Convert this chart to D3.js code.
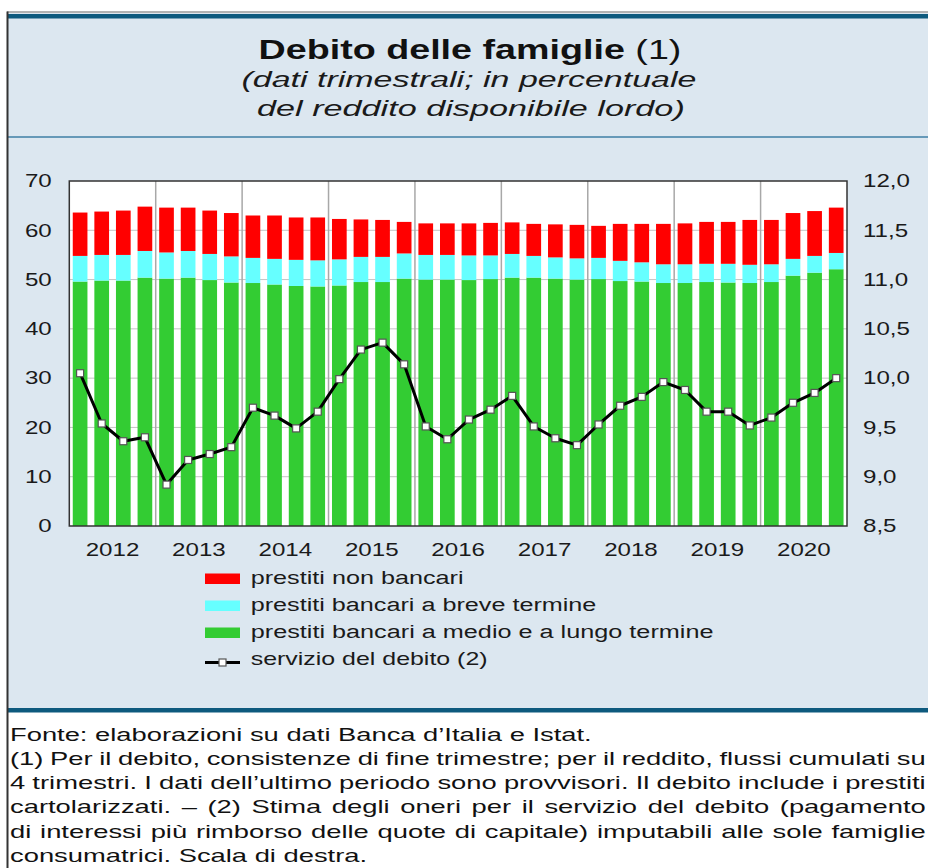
<!DOCTYPE html>
<html><head><meta charset="utf-8">
<script src="https://cdn.jsdelivr.net/npm/d3@7"></script>
<style>
body{margin:0;background:#fff}
svg{display:block;font-family:"Liberation Sans",Arial,Helvetica,sans-serif}
</style>
</head><body>
<svg id="chart" width="928" height="868"></svg>
<script>
// ---------------- DATA ----------------
const years = [2012, 2013, 2014, 2015, 2016, 2017, 2018, 2019, 2020];
const quarters = years.flatMap(y => ["T1", "T2", "T3", "T4"].map(q => y + " " + q));

// prestiti bancari a medio e a lungo termine (% reddito disponibile lordo)
const medioLungo = [49.6, 49.8, 49.8, 50.4, 50.2, 50.4, 49.9, 49.4, 49.3, 49.0, 48.7, 48.6,
  48.8, 49.5, 49.5, 50.2, 50.0, 50.0, 49.9, 50.1, 50.4, 50.4, 50.2, 50.0,
  50.1, 49.7, 49.6, 49.3, 49.3, 49.5, 49.4, 49.3, 49.5, 50.8, 51.4, 52.1];
// prestiti bancari a breve termine
const breve = [5.2, 5.2, 5.2, 5.4, 5.3, 5.4, 5.3, 5.3, 5.1, 5.2, 5.3, 5.3,
  5.3, 5.1, 5.1, 5.1, 5.0, 5.0, 5.0, 4.8, 4.8, 4.4, 4.3, 4.3,
  4.3, 4.1, 3.9, 3.8, 3.8, 3.7, 3.8, 3.7, 3.6, 3.4, 3.4, 3.3];
// prestiti non bancari
const nonBancari = [8.8, 8.8, 9.0, 9.0, 9.1, 8.8, 8.8, 8.8, 8.6, 8.8, 8.6, 8.7,
  8.2, 7.6, 7.5, 6.4, 6.4, 6.4, 6.5, 6.6, 6.4, 6.5, 6.7, 6.8,
  6.5, 7.5, 7.8, 8.2, 8.3, 8.5, 8.5, 9.1, 9.0, 9.3, 9.1, 9.2];
// servizio del debito (scala di destra)
const servizio = [10.05, 9.54, 9.36, 9.40, 8.92, 9.17, 9.23, 9.30, 9.70, 9.62, 9.49, 9.66,
  9.99, 10.29, 10.36, 10.14, 9.51, 9.38, 9.58, 9.68, 9.82, 9.51, 9.39, 9.32,
  9.53, 9.72, 9.81, 9.96, 9.88, 9.66, 9.66, 9.52, 9.60, 9.75, 9.85, 10.00];

const leftTicks = [0, 10, 20, 30, 40, 50, 60, 70];
const rightTicks = [8.5, 9.0, 9.5, 10.0, 10.5, 11.0, 11.5, 12.0];

const seriesKeys = ["medioLungo", "breve", "nonBancari"];
const seriesColors = { medioLungo: "#33cc33", breve: "#66ffff", nonBancari: "#ff0000" };
const legendLabels = ["prestiti non bancari", "prestiti bancari a breve termine",
  "prestiti bancari a medio e a lungo termine", "servizio del debito (2)"];

const titleText = "Debito delle famiglie";
const titleNote = " (1)";
const subtitleLines = ["(dati trimestrali; in percentuale", "del reddito disponibile lordo)"];
const footLines = [
  "Fonte: elaborazioni su dati Banca d\u2019Italia e Istat.",
  "(1) Per il debito, consistenze di fine trimestre; per il reddito, flussi cumulati su",
  "4 trimestri. I dati dell\u2019ultimo periodo sono provvisori. Il debito include i prestiti",
  "cartolarizzati. \u2013 (2) Stima degli oneri per il servizio del debito (pagamento",
  "di interessi pi\u00f9 rimborso delle quote di capitale) imputabili alle sole famiglie",
  "consumatrici. Scala di destra."
];

// ---------------- LAYOUT ----------------
const W = 928, H = 868;
const plot = { left: 69.3, right: 847, top: 181, bottom: 526 };
const SX = 1.34; // horizontal stretch of the lettering
const panelFill = "#dce7f0";
const navy = "#0e5a7e";

const svg = d3.select("#chart");

// helper: text placed with a horizontal stretch (either a fixed factor or a target width)
function label(parent, build, x, y, o) {
  const t = parent.append("text")
    .attr("font-size", o.size)
    .attr("fill", o.fill || "#1a1a1a")
    .attr("font-weight", o.weight || "normal")
    .attr("font-style", o.style || "normal")
    .attr("text-anchor", "start");
  build(t);
  let w = t.node().getComputedTextLength();
  let s = o.width ? o.width / w : (o.sx || SX);
  if (o.justify) {
    const txt = t.text();
    const n = (txt.match(/ /g) || []).length;
    const ws = (o.justify / s - w) / n;
    t.attr("word-spacing", ws);
    w = t.node().getComputedTextLength();
  }
  const tw = w * s;
  const x0 = o.anchor === "middle" ? x - tw / 2 : o.anchor === "end" ? x - tw : x;
  t.attr("transform", `translate(${x0},${y}) scale(${s},1)`);
  return t;
}

// ---------------- FRAME ----------------
svg.append("rect").attr("x", 0).attr("y", 0).attr("width", W).attr("height", H).attr("fill", "#fff");
svg.append("rect").attr("x", 7).attr("y", 13).attr("width", W - 7).attr("height", 696).attr("fill", panelFill);
svg.append("line").attr("x1", 7).attr("x2", W).attr("y1", 12).attr("y2", 12).attr("stroke", "#666").attr("stroke-width", 1);
svg.append("rect").attr("x", 7).attr("y", 14).attr("width", W - 7).attr("height", 4.5).attr("fill", navy);
svg.append("line").attr("x1", 7).attr("x2", W).attr("y1", 137).attr("y2", 137).attr("stroke", "#3f7fa6").attr("stroke-width", 1.6);
svg.append("rect").attr("x", 7).attr("y", 708).attr("width", W - 7).attr("height", 4.5).attr("fill", navy);
svg.append("line").attr("x1", 7.5).attr("x2", 7.5).attr("y1", 11.5).attr("y2", H).attr("stroke", "#333").attr("stroke-width", 2);

// ---------------- TITLE ----------------
label(svg, t => {
  t.append("tspan").attr("font-weight", "bold").text(titleText);
  t.append("tspan").attr("font-weight", "normal").text(titleNote);
}, 470, 59, { size: 28, width: 423, anchor: "middle", fill: "#111" });
const subY = [87, 116], subW = [455, 428], subX = [469, 471];
subtitleLines.forEach((s, i) => {
  label(svg, t => t.text(s), subX[i], subY[i], { size: 22, style: "italic", width: subW[i], anchor: "middle", fill: "#1a1a1a" });
});

// ---------------- SCALES ----------------
const x = d3.scaleBand().domain(quarters).range([plot.left, plot.right]).paddingInner(0.32).paddingOuter(0.16);
const xYear = d3.scaleBand().domain(years).range([plot.left, plot.right]).padding(0);
const y = d3.scaleLinear().domain([0, 70]).range([plot.bottom, plot.top]);
const y2 = d3.scaleLinear().domain([8.5, 12]).range([plot.bottom, plot.top]);

// plot background
svg.append("rect").attr("x", plot.left).attr("y", plot.top)
  .attr("width", plot.right - plot.left).attr("height", plot.bottom - plot.top).attr("fill", "#fff");

// horizontal gridlines
svg.append("g").selectAll("line").data(leftTicks.slice(1, -1)).join("line")
  .attr("x1", plot.left).attr("x2", plot.right)
  .attr("y1", d => y(d)).attr("y2", d => y(d))
  .attr("stroke", "#c4c4c4").attr("stroke-width", 1);

// vertical year separators
svg.append("g").selectAll("line").data(years.slice(1)).join("line")
  .attr("x1", d => xYear(d)).attr("x2", d => xYear(d))
  .attr("y1", plot.top).attr("y2", plot.bottom)
  .attr("stroke", "#a8a8a8").attr("stroke-width", 1.5);

// ---------------- BARS ----------------
const table = quarters.map((q, i) => ({ q, medioLungo: medioLungo[i], breve: breve[i], nonBancari: nonBancari[i] }));
const stacked = d3.stack().keys(seriesKeys)(table);
svg.append("g").selectAll("g").data(stacked).join("g")
  .attr("fill", d => seriesColors[d.key])
  .selectAll("rect").data(d => d).join("rect")
  .attr("x", d => x(d.data.q))
  .attr("width", x.bandwidth())
  .attr("y", d => y(d[1]))
  .attr("height", d => y(d[0]) - y(d[1]));

// ---------------- LINE ----------------
const line = d3.line().x((d, i) => x(quarters[i]) + x.bandwidth() / 2).y(d => y2(d));
svg.append("path").datum(servizio).attr("d", line)
  .attr("fill", "none").attr("stroke", "#000").attr("stroke-width", 3).attr("stroke-linejoin", "round");
svg.append("g").selectAll("rect").data(servizio).join("rect")
  .attr("x", (d, i) => x(quarters[i]) + x.bandwidth() / 2 - 3.5)
  .attr("y", d => y2(d) - 3.5)
  .attr("width", 7).attr("height", 7)
  .attr("fill", "#fff").attr("stroke", "#555").attr("stroke-width", 1.2);

// plot border
svg.append("rect").attr("x", plot.left).attr("y", plot.top)
  .attr("width", plot.right - plot.left).attr("height", plot.bottom - plot.top)
  .attr("fill", "none").attr("stroke", "#333").attr("stroke-width", 1.5);

// ---------------- AXES ----------------
const itLocale = d3.formatLocale({ decimal: ",", thousands: ".", grouping: [3], currency: ["", "€"] });
const fmtRight = itLocale.format(".1f");

const gL = svg.append("g").attr("transform", `translate(${plot.left},0)`)
  .call(d3.axisLeft(y).tickValues(leftTicks).tickSize(0).tickPadding(0));
const gR = svg.append("g").attr("transform", `translate(${plot.right},0)`)
  .call(d3.axisRight(y2).tickValues(rightTicks).tickSize(0).tickPadding(0).tickFormat(fmtRight));
const gB = svg.append("g").attr("transform", `translate(0,${plot.bottom})`)
  .call(d3.axisBottom(xYear).tickSize(0).tickPadding(17));
[gL, gR, gB].forEach(g => {
  g.select(".domain").remove();
  g.selectAll("text").attr("font-size", 18).attr("fill", "#1a1a1a")
    .attr("font-family", "'Liberation Sans',Arial,sans-serif");
});
gL.selectAll("text").attr("x", null).attr("text-anchor", "end").attr("transform", `translate(-17.6,0) scale(${SX},1)`);
gR.selectAll("text").attr("x", null).attr("text-anchor", "start").attr("transform", `translate(16,0) scale(${SX},1)`);
gB.selectAll("text").attr("text-anchor", "middle").attr("transform", `scale(${SX},1)`)
  .attr("x", d => 0);

// ---------------- LEGEND ----------------
const legY = [584, 611, 638, 665];
const legSw = ["nonBancari", "breve", "medioLungo"];
const leg = svg.append("g");
legSw.forEach((k, i) => {
  leg.append("rect").attr("x", 205).attr("y", legY[i] - 10.5).attr("width", 35).attr("height", 10.5)
    .attr("fill", seriesColors[k]);
});
leg.append("line").attr("x1", 205).attr("x2", 240).attr("y1", legY[3] - 2.5).attr("y2", legY[3] - 2.5)
  .attr("stroke", "#000").attr("stroke-width", 3);
leg.append("rect").attr("x", 219).attr("y", legY[3] - 6).attr("width", 7).attr("height", 7)
  .attr("fill", "#fff").attr("stroke", "#555").attr("stroke-width", 1.2);
const legW = [213, 346, 463, 237];
legendLabels.forEach((s, i) => {
  label(leg, t => t.text(s), 250.7, legY[i], { size: 19, width: legW[i], anchor: "start" });
});

// ---------------- FOOTNOTE ----------------
const footY = [740.5, 764.8, 789.1, 813.4, 837.7, 862];
const foot = svg.append("g");
const first = label(foot, t => t.text(footLines[0]), 10, footY[0], { size: 17.5, width: 582, fill: "#111" });
const footSX = 582 / first.node().getComputedTextLength();
footLines.slice(1).forEach((s, j) => {
  const i = j + 1;
  const just = i <= 4 ? 916 : null;
  label(foot, t => t.text(s), 10, footY[i], { size: 17.5, sx: footSX, justify: just, fill: "#111" });
});
</script>
</body></html>
